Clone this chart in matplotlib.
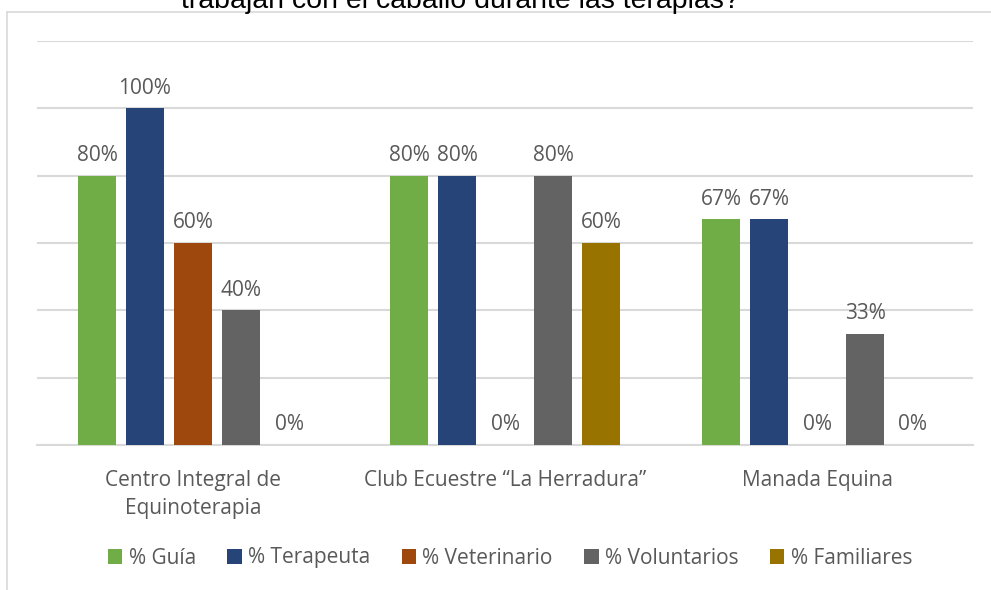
import matplotlib
matplotlib.use("Agg")
import matplotlib.pyplot as plt
from matplotlib.lines import Line2D
import numpy as np

categories = ["Centro Integral de\nEquinoterapia", "Club Ecuestre \u201cLa Herradura\u201d", "Manada Equina"]
series_names = ["% Gu\u00eda", "% Terapeuta", "% Veterinario", "% Voluntarios", "% Familiares"]
guia = [0.80, 0.80, 0.67]
terapeuta = [1.00, 0.80, 0.67]
veterinario = [0.60, 0.0, 0.0]
voluntarios = [0.40, 0.80, 0.33]
familiares = [0.0, 0.60, 0.0]
series = [guia, terapeuta, veterinario, voluntarios, familiares]
colors = ["#70AD47", "#264478", "#9E480E", "#636363", "#997300"]
title = "trabajan con el caballo durante las terapias?"

plt.rcParams['font.family'] = ['Open Sans', 'DejaVu Sans']
txt = "#595959"

fig = plt.figure(figsize=(9.91, 5.90), dpi=100)
W, H = 991, 590
ax = fig.add_axes([37 / W, (H - 445) / H, (973 - 37) / W, (445 - 41) / H])

x = np.arange(len(categories))
slot = 48 / 312
bw = 38 / 312
for i, (vals, c, name) in enumerate(zip(series, colors, series_names)):
    pos = x + (i - 2) * slot
    ax.bar(pos, vals, width=bw, color=c, label=name, zorder=3)
    for p, v in zip(pos, vals):
        ax.annotate(f"{round(v * 100):d}%", (p, v), xytext=(0, 7), textcoords="offset points",
                    ha="center", va="bottom", fontsize=15, color=txt)

ax.set_xlim(-0.5, 2.5)
ax.set_ylim(0, 1.2)
ax.set_yticks(np.arange(0, 1.21, 0.2))
ax.yaxis.grid(True, color="#D9D9D9", linewidth=1.5, zorder=0)
ax.set_yticklabels([])
ax.tick_params(axis="y", length=0)
ax.set_xticks(x)
ax.set_xticklabels(categories, fontsize=15, color=txt, linespacing=1.45)
ax.tick_params(axis="x", length=0, pad=18)
for s in ["top", "right", "left"]:
    ax.spines[s].set_visible(False)
ax.spines["bottom"].set_color("#D9D9D9")
ax.spines["bottom"].set_linewidth(1.5)

leg = fig.legend(loc="center", bbox_to_anchor=(510 / W, (H - 558) / H), ncol=5, frameon=False,
                 fontsize=15, handlelength=0.7, handleheight=0.7, handletextpad=0.3,
                 columnspacing=1.5)
for t in leg.get_texts():
    t.set_color(txt)

# outer chart frame (partially visible)
fig.add_artist(Line2D([7 / W, 7 / W], [0, (H - 12) / H], transform=fig.transFigure, color="#D9D9D9", lw=1.2))
fig.add_artist(Line2D([7 / W, 1], [(H - 12) / H, (H - 12) / H], transform=fig.transFigure, color="#D9D9D9", lw=1.2))

fig.text(460 / W, (H - 8) / H, title, ha="center", va="baseline", fontsize=20.5,
         family=["Liberation Sans", "DejaVu Sans"], color="black")

fig.savefig("out.png", dpi=100)
